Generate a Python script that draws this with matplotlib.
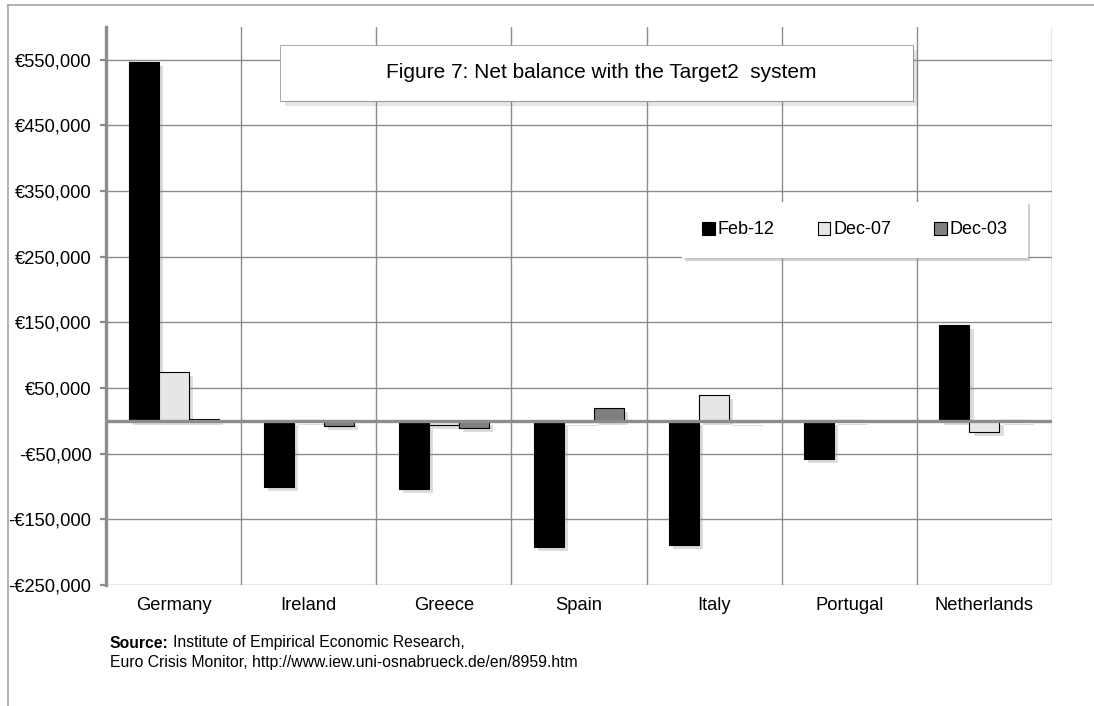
import numpy as np
import matplotlib
matplotlib.use("Agg")
import matplotlib.pyplot as plt
import matplotlib.patheffects as pe
from matplotlib.patches import Rectangle, Patch
from matplotlib.lines import Line2D
from matplotlib.ticker import FuncFormatter, FixedLocator

plt.rcParams['font.family'] = ['Liberation Sans', 'DejaVu Sans']

# data (EUR million)
countries = ['Germany', 'Ireland', 'Greece', 'Spain', 'Italy', 'Portugal', 'Netherlands']
feb12 = [547000, -101000, -104000, -192000, -189000, -58000, 146000]
dec07 = [75000, 1500, -6000, -1000, 40000, 2000, -17000]
dec03 = [3000, -8000, -11000, 20000, -1000, 0, 2000]
series_names = ['Feb-12', 'Dec-07', 'Dec-03']
series_colors = ['#000000', '#e6e6e6', '#808080']
yticks = [-250000, -150000, -50000, 50000, 150000, 250000, 350000, 450000, 550000]

W, H = 1094, 706
fig = plt.figure(figsize=(W / 100, H / 100), dpi=100)
ax = fig.add_axes([106 / W, 1 - 585 / H, (1052 - 106) / W, (585 - 27) / H])

grid_col = '#8c8c8c'
x = np.arange(len(countries))
bw = 0.222
shadow = [pe.SimplePatchShadow(offset=(3, -3), shadow_rgbFace='0.55', alpha=0.3), pe.Normal()]
for i, (vals, col) in enumerate(zip([feb12, dec07, dec03], series_colors)):
    bars = ax.bar(x + (i - 1) * bw, vals, width=bw, color=col, edgecolor='black',
                  linewidth=0.8, zorder=3)
    for b in bars:
        b.set_path_effects(shadow)

ax.set_xlim(-0.5, len(countries) - 0.5)
ax.set_ylim(-250000, 600000)

ax.set_yticks(yticks)
ax.yaxis.set_major_formatter(FuncFormatter(
    lambda v, p: ('-€{:,.0f}' if v < 0 else '€{:,.0f}').format(abs(v))))
ax.tick_params(axis='y', direction='out', length=4.5, width=1.6, color=grid_col,
               pad=6, labelsize=13.2)
ax.grid(axis='y', color=grid_col, linewidth=1.0, zorder=0)

ax.set_xticks(x)
ax.set_xticklabels(countries)
ax.tick_params(axis='x', length=0, pad=9, labelsize=13.2)
ax.xaxis.set_minor_locator(FixedLocator(np.arange(0.5, len(countries), 1.0)))
ax.tick_params(axis='x', which='minor', length=0)
ax.grid(axis='x', which='minor', color=grid_col, linewidth=1.0, zorder=0)

for s in ['top', 'right', 'bottom']:
    ax.spines[s].set_visible(False)
ax.spines['left'].set_color(grid_col)
ax.spines['left'].set_linewidth(2.4)
ax.axhline(0, color=grid_col, linewidth=2.4, zorder=4)

# outer frame
fig.add_artist(Line2D([8 / W, 1], [1 - 5 / H, 1 - 5 / H], color='#a6a6a6', linewidth=1.2))
fig.add_artist(Line2D([8 / W, 8 / W], [1 - 5 / H, 0], color='#a6a6a6', linewidth=1.2))

# title box
box_eff = [pe.SimplePatchShadow(offset=(3.5, -3.5), shadow_rgbFace='0.5', alpha=0.2),
           pe.SimplePatchShadow(offset=(1.0, -1.0), shadow_rgbFace='black', alpha=1.0),
           pe.Normal()]
tb = Rectangle((280 / W, 1 - 101 / H), (913 - 280) / W, 56 / H, transform=fig.transFigure,
               facecolor='white', edgecolor='#9a9a9a', linewidth=0.6, zorder=5)
tb.set_path_effects(box_eff)
fig.add_artist(tb)
fig.text(601 / W, 1 - 73 / H, 'Figure 7: Net balance with the Target2  system',
         ha='center', va='center', fontsize=15, zorder=6)

# legend box
handles = [Patch(facecolor=c, edgecolor='black', linewidth=0.8) for c in series_colors]
leg = fig.legend(handles, series_names, ncol=3, loc='center',
                 bbox_to_anchor=(680 / W, 1 - 259 / H, 350 / W, 58 / H),
                 bbox_transform=fig.transFigure, frameon=True, fancybox=False,
                 fontsize=13, handlelength=0.7, handleheight=0.7, handletextpad=0.15,
                 columnspacing=2.4, borderpad=1.1,
                 shadow={'color': '0.6', 'alpha': 0.45})
leg.get_frame().set_edgecolor('white')
leg.get_frame().set_linewidth(0)

# source note
t1 = fig.text(110 / W, 1 - 643 / H, 'Source:', fontsize=11.3, fontweight='bold',
              ha='left', va='center')
fig.canvas.draw()
bb = t1.get_window_extent(fig.canvas.get_renderer())
fig.text(bb.x1 / W + 4 / W, 1 - 643 / H, 'Institute of Empirical Economic Research,',
         fontsize=11.3, ha='left', va='center')
fig.text(110 / W, 1 - 663 / H,
         'Euro Crisis Monitor, http://www.iew.uni-osnabrueck.de/en/8959.htm',
         fontsize=11.3, ha='left', va='center')

fig.savefig('out.png', dpi=100)
